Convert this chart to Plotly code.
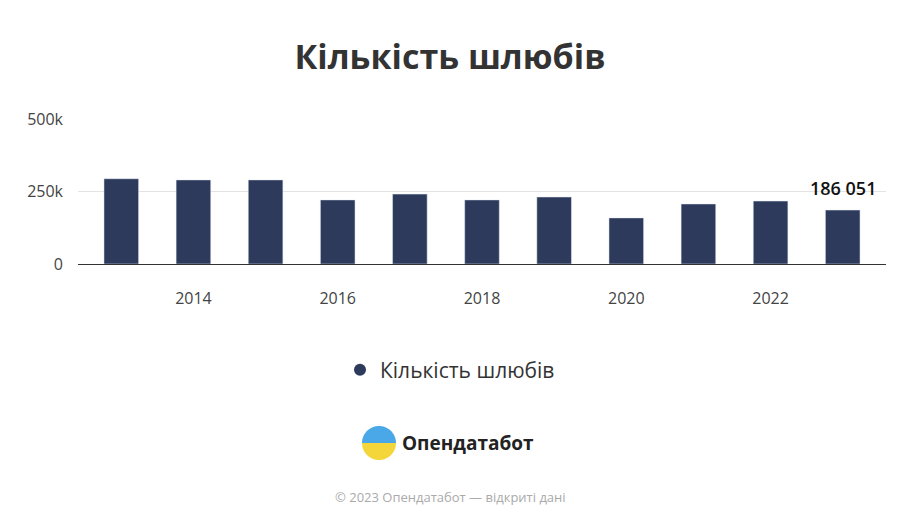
import plotly.graph_objects as go
import numpy as np

years = [2013, 2014, 2015, 2016, 2017, 2018, 2019, 2020, 2021, 2022, 2023]
marriages = [294000, 290000, 290000, 221000, 241000, 221000, 231000, 159000, 207000, 217000, 186051]
tick_vals = [2014, 2016, 2018, 2020, 2022]
y_ticks = [0, 250000, 500000]
y_labels = ["0", "250k", "500k"]

OFF = 8  # page body margin
L, T, R, B = 78 - OFF, 119 - OFF, 22, 525 - (264 - OFF)
PW, PH = 900 - L - R, 525 - T - B
def px(x): return (x - OFF - L) / PW
def py(y): return (525 - B - (y - OFF)) / PH

fig = go.Figure()
fig.add_trace(go.Bar(x=years, y=marriages, name="Кількість шлюбів",
                     marker_color="#2d3a5c", width=0.48, showlegend=False))
fig.add_trace(go.Scatter(x=[None], y=[None], mode="markers", name="Кількість шлюбів",
                         marker=dict(size=22, color="#2d3a5c", symbol="circle")))
fig.add_annotation(x=years[-1], y=marriages[-1], text="186 051", showarrow=False,
                   yshift=22, xshift=0, font=dict(size=18, color="#111", weight=600))
fig.update_layout(
    width=900, height=525, plot_bgcolor="white", paper_bgcolor="white",
    font=dict(family="Open Sans", color="#333"),
    title=dict(text="<b>Кількість шлюбів</b>", xref="container", x=(450 - OFF)/900,
               y=1 - (57 - OFF)/525, xanchor="center",
               yanchor="middle", font=dict(size=34, color="#333")),
    margin=dict(l=L, r=R, t=T, b=B, autoexpand=False),
    showlegend=True,
    legend=dict(orientation="h", x=px(450), xanchor="center", y=py(370), yanchor="middle",
                font=dict(size=21, color="#333"), itemsizing="constant"),
    xaxis=dict(tickvals=tick_vals, showline=True, linecolor="#333", linewidth=1,
               tickfont=dict(size=16, color="#444"), range=[2012.4, 2023.6], ticks="",
               ticklabelstandoff=20),
    yaxis=dict(tickvals=y_ticks, ticktext=y_labels, range=[0, 500000],
               gridcolor="#e3e3e3", tickfont=dict(size=16, color="#444"), zeroline=False,
               ticklabelstandoff=14),
)
# logo
cx, cy, r = 379, 443, 17
t = np.linspace(0, np.pi, 30)
top = "M " + " L ".join("%f,%f" % (px(cx + r*np.cos(a)), py(cy - r*np.sin(a))) for a in t) + " Z"
bot = "M " + " L ".join("%f,%f" % (px(cx + r*np.cos(a)), py(cy + r*np.sin(a))) for a in t) + " Z"
fig.add_shape(type="path", xref="paper", yref="paper", path=bot, fillcolor="#f5d63a", line_width=0)
fig.add_shape(type="path", xref="paper", yref="paper", path=top, fillcolor="#4aa8e8", line_width=0)
fig.add_annotation(xref="paper", yref="paper", x=px(400), y=py(443),
                   text="<b>Опендатабот</b>", showarrow=False, xanchor="left", yanchor="middle",
                   font=dict(size=19, color="#222"))
fig.add_annotation(xref="paper", yref="paper", x=px(450), y=py(497), yanchor="middle",
                   text="© 2023 Опендатабот — відкриті дані", showarrow=False,
                   font=dict(size=13, color="#aaa"))
fig.write_html("out.html")
